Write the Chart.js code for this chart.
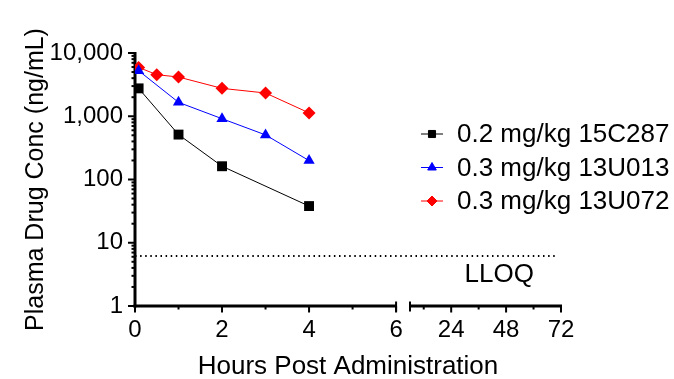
<!DOCTYPE html>
<html><head><meta charset="utf-8">
<script src="https://cdn.jsdelivr.net/npm/chart.js@4.4.1/dist/chart.umd.min.js"></script>
<style>html,body{margin:0;padding:0;background:#fff}#wrap{width:674px;height:379px;position:relative}</style>
</head><body><div id="wrap"><canvas id="c"></canvas></div>
<script>
// ---- data ----
const times15C287 = [0.083, 1, 2, 4];
const conc15C287  = [2760, 513, 162, 38];
const times13U013 = [0.083, 1, 2, 3, 4];
const conc13U013  = [5250, 1660, 915, 507, 199];
const times13U072 = [0.083, 0.5, 1, 2, 3, 4];
const conc13U072  = [5920, 4540, 4170, 2760, 2330, 1130];
const seriesLabels = ['0.2 mg/kg 15C287', '0.3 mg/kg 13U013', '0.3 mg/kg 13U072'];
const LLOQ = 6.2;
const lloqTimes = [0, 70];
const xMajorSeg1 = [0, 2, 4, 6];
const xMinorSeg1 = [1, 3, 5];
const xMajorSeg2 = [24, 48, 72];
const xMinorSeg2 = [12, 36, 60];
const yMajor = [1, 10, 100, 1000, 10000];
const xTitle = 'Hours Post Administration';
const yTitle = 'Plasma Drug Conc (ng/mL)';
const lloqText = 'LLOQ';

// ---- broken x-axis mapping (segment 1: 0-6 h, segment 2: 6-72 h) ----
const SEG1_END = 6, SEG2_T0 = 6, SEG2_T1 = 72;
const SEG2_V0 = 6.32, SEG2_V1 = 9.79;
function bx(t){ return t <= SEG1_END ? t : SEG2_V0 + (t - SEG2_T0) * (SEG2_V1 - SEG2_V0) / (SEG2_T1 - SEG2_T0); }
const xTickTimes = xMajorSeg1.concat(xMajorSeg2);

const FONT = "'Liberation Sans', Arial, Helvetica, sans-serif";
const pts = (ts, vs) => ts.map((t, i) => ({x: bx(t), y: vs[i]}));

const axesPlugin = {
  id: 'axesDraw',
  beforeDatasetsDraw(chart){
    const ctx = chart.ctx, xs = chart.scales.x, ys = chart.scales.y;
    const y0 = ys.bottom, x0 = xs.left;
    ctx.save();
    ctx.strokeStyle = '#000'; ctx.lineWidth = 3; ctx.lineCap = 'butt';
    const seg = (a,b,c,d) => { ctx.beginPath(); ctx.moveTo(a,b); ctx.lineTo(c,d); ctx.stroke(); };
    // y axis
    seg(x0, ys.top - 1, x0, y0 + 1.5);
    ctx.lineWidth = 2;
    yMajor.forEach(v => { const p = ys.getPixelForValue(v); seg(x0 - 7, p, x0, p); });
    for (let d = 1; d < 10000; d *= 10) for (let k = 2; k <= 9; k++) {
      const p = ys.getPixelForValue(d * k); seg(x0 - 3.5, p, x0, p);
    }
    // x axis segments
    ctx.lineWidth = 3;
    const s1a = xs.getPixelForValue(bx(0)), s1b = xs.getPixelForValue(bx(SEG1_END));
    seg(s1a - 1.5, y0, s1b, y0);
    const s2a = xs.getPixelForValue(SEG2_V0);
    const s2b = xs.getPixelForValue(bx(SEG2_T1));
    seg(s2a, y0, s2b + 1, y0);
    ctx.lineWidth = 2;
    xMajorSeg1.concat(xMajorSeg2).forEach(t => { const p = xs.getPixelForValue(bx(t)); seg(p, y0, p, y0 + 6.5); });
    xMinorSeg1.concat(xMinorSeg2).forEach(t => { const p = xs.getPixelForValue(bx(t)); seg(p, y0, p, y0 + 3.5); });
    // break caps
    seg(s1b, y0 - 4.5, s1b, y0 + 5.5);
    seg(s2a, y0 - 4.5, s2a, y0 + 5.5);
    ctx.restore();
  },
  afterDraw(chart){
    const ctx = chart.ctx, xs = chart.scales.x, ys = chart.scales.y;
    ctx.save();
    // LLOQ label
    ctx.fillStyle = '#000';
    ctx.font = '26px ' + FONT;
    ctx.textAlign = 'center'; ctx.textBaseline = 'middle';
    ctx.fillText(lloqText, xs.getPixelForValue(bx(45)), ys.getPixelForValue(3.15));
    // legend
    const rows = [134, 167.5, 201];
    for (let i = 0; i < 3; i++) {
      const ds = chart.data.datasets[i];
      const y = rows[i];
      ctx.strokeStyle = ds.borderColor; ctx.lineWidth = 1;
      ctx.beginPath(); ctx.moveTo(421, y); ctx.lineTo(443, y); ctx.stroke();
      ctx.save();
      ctx.fillStyle = ds.backgroundColor; ctx.strokeStyle = ds.borderColor;
      Chart.helpers.drawPoint(ctx, {pointStyle: ds.pointStyle, radius: 5, borderWidth: 1, rotation: 0}, 432, y);
      ctx.restore();
      ctx.fillStyle = '#000';
      ctx.textAlign = 'left'; ctx.textBaseline = 'middle';
      ctx.font = '26px ' + FONT;
      ctx.fillText(seriesLabels[i], 457, y + 1);
    }
    ctx.restore();
  }
};

new Chart(document.getElementById('c'), {
  type: 'line',
  data: {
    datasets: [
      {label: seriesLabels[0], data: pts(times15C287, conc15C287), borderColor: '#000000', backgroundColor: '#000000',
       pointStyle: 'rect', pointRadius: 7, borderWidth: 1, pointBorderWidth: 0},
      {label: seriesLabels[1], data: pts(times13U013, conc13U013), borderColor: '#0000ff', backgroundColor: '#0000ff',
       pointStyle: 'triangle', pointRadius: 6.5, borderWidth: 1, pointBorderWidth: 0},
      {label: seriesLabels[2], data: pts(times13U072, conc13U072), borderColor: '#ff0000', backgroundColor: '#ff0000',
       pointStyle: 'rectRot', pointRadius: 6.5, borderWidth: 1, pointBorderWidth: 0},
      {label: 'LLOQ', data: lloqTimes.map(t => ({x: bx(t), y: LLOQ})), borderColor: '#000000', borderWidth: 2,
       borderDash: [1.5, 3.6], pointRadius: 0}
    ]
  },
  options: {
    responsive: true, maintainAspectRatio: false, animation: false, events: [],
    layout: {padding: {top: 53, right: 113, left: 0, bottom: 0}},
    plugins: {legend: {display: false}, tooltip: {enabled: false}},
    scales: {
      x: {
        type: 'linear', min: 0, max: SEG2_V1,
        grid: {display: false, drawTicks: false}, border: {display: false},
        afterBuildTicks(scale){ scale.ticks = xTickTimes.map(t => ({value: bx(t)})); },
        afterFit(scale){ scale.height = 73; },
        ticks: {autoSkip: false, maxRotation: 0, padding: 10, color: '#000',
          font: {family: FONT, size: 24},
          callback: (v, i) => String(xTickTimes[i])},
        title: {display: true, text: xTitle, color: '#000', font: {family: FONT, size: 26, lineHeight: 1},
          padding: {top: 0, bottom: -1}}
      },
      y: {
        type: 'logarithmic', min: 1, max: 10000,
        grid: {display: false, drawTicks: false}, border: {display: false},
        afterBuildTicks(scale){ scale.ticks = yMajor.map(v => ({value: v, major: true})); },
        afterFit(scale){ scale.width = 135; },
        ticks: {padding: 12, color: '#000', font: {family: FONT, size: 24},
          callback: v => Number(v).toLocaleString('en-US')},
        title: {display: true, text: yTitle, color: '#000', font: {family: FONT, size: 25, lineHeight: 1},
          padding: {top: 24, bottom: 0}}
      }
    }
  },
  plugins: [axesPlugin]
});
</script></body></html>
